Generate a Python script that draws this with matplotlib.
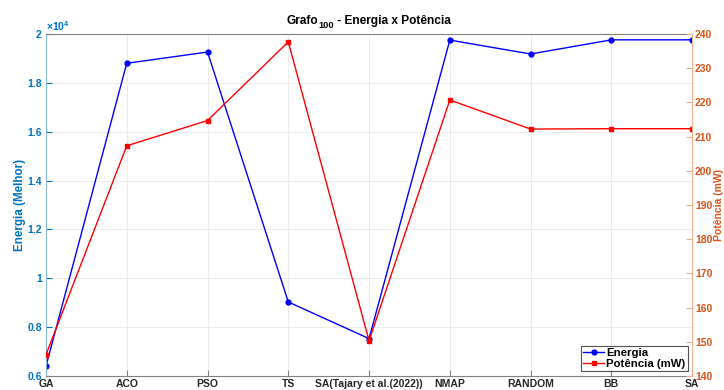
import matplotlib
matplotlib.use("Agg")
import matplotlib.pyplot as plt

categories = ["GA", "ACO", "PSO", "TS", "SA(Tajary et al.(2022))", "NMAP", "RANDOM", "BB", "SA"]
energia = [6400, 18800, 19260, 9030, 7530, 19750, 19180, 19760, 19760]
potencia = [146.2, 207.3, 214.7, 237.7, 150.3, 220.7, 212.2, 212.3, 212.3]
left_ticks = [0.6, 0.8, 1.0, 1.2, 1.4, 1.6, 1.8, 2.0]
left_labels = ["0.6", "0.8", "1", "1.2", "1.4", "1.6", "1.8", "2"]
right_ticks = [140, 150, 160, 170, 180, 190, 200, 210, 220, 230, 240]
title_parts = ["Grafo", "100", " - Energia x Potência"]

blue_ax = "#0072BD"
orange_ax = "#D95319"
tick_fs = 7.5
label_fs = 8.4
title_fs = 8.6

plt.rcParams['font.family'] = ['Liberation Sans', 'DejaVu Sans']
plt.rcParams['font.weight'] = 'bold'
plt.rcParams['mathtext.fontset'] = 'custom'
plt.rcParams['mathtext.rm'] = 'Liberation Sans'
plt.rcParams['mathtext.bf'] = 'Liberation Sans:bold'

fig = plt.figure(figsize=(7.24, 3.9), dpi=100)
ax_rect = [0.0635, 0.0359, 0.8925, 0.877]
ax = fig.add_axes(ax_rect)
x = list(range(len(categories)))
fig_w = fig.get_size_inches()[0] * fig.dpi
fig_h = fig.get_size_inches()[1] * fig.dpi

ax.set_xlim(0, len(categories) - 1)
ax.set_ylim(6000, 20000)
ax.set_yticks([v * 1e4 for v in left_ticks])
ax.set_yticklabels(left_labels)
ax.set_xticks(x)
ax.set_xticklabels(categories, fontsize=tick_fs, fontweight='bold', color='#262626')
ax.grid(True, color='#ebebeb', linewidth=0.7)
ax.set_axisbelow(True)
ax.tick_params(axis='y', colors=blue_ax, labelsize=tick_fs, direction='in', length=4, pad=3)
ax.tick_params(axis='x', colors='#808080', labelcolor='#262626', labelsize=tick_fs,
               direction='in', length=4, pad=2)
for lbl in ax.get_yticklabels():
    lbl.set_fontweight('bold')
ax.spines['left'].set_color('#8ab8dc')
ax.spines['top'].set_color('#808080')
ax.spines['bottom'].set_color('#808080')
ax.spines['right'].set_visible(False)
ax.set_ylabel("Energia (Melhor)", color=blue_ax, fontsize=label_fs, fontweight='bold', labelpad=1)
ax.text(0.0, 1.004, r"$\times10^4$", transform=ax.transAxes, color=blue_ax, fontsize=tick_fs,
        ha='left', va='bottom')

l1, = ax.plot(x, energia, color='blue', marker='o', markersize=3.5, linewidth=1.0,
              markerfacecolor='blue', label='Energia')

ax2 = ax.twinx()
ax2.set_ylim(140, 240)
ax2.set_yticks(right_ticks)
ax2.tick_params(axis='y', colors='#f0b090', labelcolor=orange_ax, labelsize=tick_fs,
                direction='in', length=4, pad=2)
for lbl in ax2.get_yticklabels():
    lbl.set_fontweight('bold')
for s in ['left', 'top', 'bottom']:
    ax2.spines[s].set_visible(False)
ax2.spines['right'].set_color('#f0b090')
ax2.set_ylabel("Potência (mW)", color=orange_ax, fontsize=7.5, fontweight='bold')
ax_w_px = ax_rect[2] * fig_w
ax_x0_px = ax_rect[0] * fig_w
ax2.yaxis.set_label_coords((713.5 - ax_x0_px) / ax_w_px, 0.5)
l2, = ax2.plot(x, potencia, color='red', marker='s', markersize=3, linewidth=1.0,
               markerfacecolor='red', label='Potência (mW)')

# Title composed from pieces so the subscript keeps a readable size
renderer = fig.canvas.get_renderer()
sizes = [title_fs, title_fs * 0.78, title_fs]
dy = [0.0, -4.0, 0.0]
pieces = []
for txt, fs in zip(title_parts, sizes):
    t = fig.text(0, 0, txt, fontsize=fs, fontweight='bold', color='#000000', ha='left', va='baseline')
    pieces.append(t)
widths = [p.get_window_extent(renderer).width for p in pieces]
total = sum(widths)
center_px = (ax_rect[0] + ax_rect[2] / 2) * fig_w
base_px = fig_h - 24.0
cur = center_px - total / 2
for p, w, d in zip(pieces, widths, dy):
    p.set_position((cur / fig_w, (base_px + d) / fig_h))
    cur += w

leg = ax2.legend(handles=[l1, l2], loc='lower right', fontsize=8.2, frameon=True, fancybox=False,
                 borderpad=0.2, handlelength=1.8, handletextpad=0.2, labelspacing=0.1,
                 borderaxespad=0.4)
leg.get_frame().set_edgecolor('#262626')
leg.get_frame().set_linewidth(0.8)
for t in leg.get_texts():
    t.set_fontweight('bold')

fig.savefig("out.png", dpi=100)
